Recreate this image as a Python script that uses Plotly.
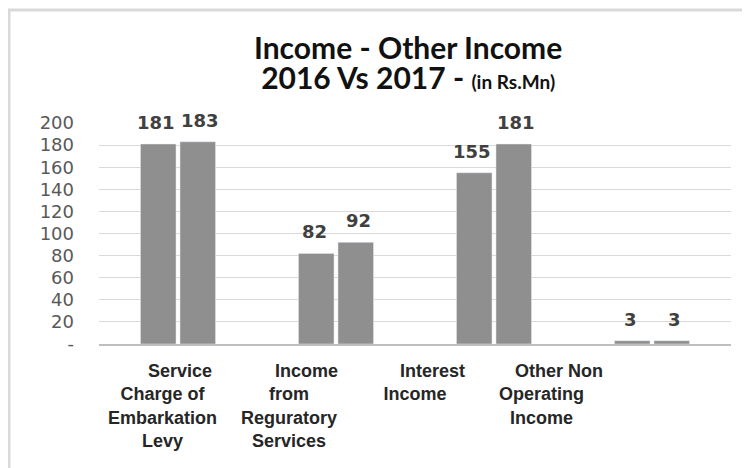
import plotly.graph_objects as go

categories = [
    "Service Charge of Embarkation Levy",
    "Income from Reguratory Services",
    "Interest Income",
    "Other Non Operating Income",
]
category_labels = [
    ["Service", "Charge of", "Embarkation", "Levy"],
    ["Income", "from", "Reguratory", "Services"],
    ["Interest", "Income"],
    ["Other Non", "Operating", "Income"],
]
values_2016 = [181, 82, 155, 3]
values_2017 = [183, 92, 181, 3]
tick_vals = [0, 20, 40, 60, 80, 100, 120, 140, 160, 180, 200]
tick_text = ["-", "20", "40", "60", "80", "100", "120", "140", "160", "180", "200"]

BAR_COLOR = "#8f8f8f"
NB = "\u00a0"

# plot area in px (page body adds 8px offset, so everything is moved up/left by 8)
L, T, W, H = 91, 115, 632, 221


def py(px_y):
    return (T + H - px_y) / H


def px(px_x):
    return (px_x - L) / W


fig = go.Figure()
for name, vals in [("2016", values_2016), ("2017", values_2017)]:
    fig.add_trace(go.Bar(
        x=categories, y=vals, name=name,
        marker_color=BAR_COLOR,
        showlegend=False,
    ))

# value labels above each bar (Excel style, a bit higher than plotly's outside text)
for vals, shift in [(values_2016, -22), (values_2017, 22)]:
    for cat, v in zip(categories, vals):
        fig.add_annotation(
            x=cat, y=v, text=str(v), showarrow=False,
            xshift=shift, yshift=9, yanchor="bottom",
            font=dict(family="DejaVu Sans", size=18, color="#404040", weight="bold"),
        )

# category labels, drifting left like the original
for i, lines in enumerate(category_labels):
    lines = [NB * 7 + lines[0]] + lines[1:]
    fig.add_annotation(
        x=-0.1 + 0.8 * i, xref="x", y=0, yref="paper",
        yanchor="top", yshift=-15, showarrow=False,
        text="<br>".join(lines), align="center",
        font=dict(family="Liberation Sans", size=18, color="#262626", weight="bold"),
    )

# two-line title: small base size keeps the lines tight, spans set the real size
fig.add_annotation(
    x=px(400), y=py(54), xref="paper", yref="paper", showarrow=False,
    xanchor="center", yanchor="middle", align="center",
    text=("<span style='font-size:30px'>Income - Other Income</span><br>"
          "<span style='font-size:30px'>2016 Vs 2017 - </span>"
          "<span style='font-size:19px'>(in Rs.Mn)</span>"),
    font=dict(family="Lato", size=23, color="#111111", weight="bold"),
)

fig.update_layout(
    width=750, height=468,
    margin=dict(l=L, r=750 - L - W, t=T, b=468 - T - H),
    paper_bgcolor="white", plot_bgcolor="white",
    barmode="group", bargap=0.5, bargroupgap=0.1,
    shapes=[
        dict(type="line", xref="paper", yref="paper",
             x0=px(0), x1=px(760), y0=py(2), y1=py(2),
             line=dict(color="#d9d9d9", width=3)),
        dict(type="line", xref="paper", yref="paper",
             x0=px(1), x1=px(1), y0=py(1), y1=py(480),
             line=dict(color="#d9d9d9", width=3)),
    ],
)
fig.update_xaxes(
    showticklabels=False, showgrid=False,
    showline=True, linecolor="#bfbfbf", linewidth=2,
)
fig.update_yaxes(
    range=[0, 200], tickvals=tick_vals, ticktext=tick_text,
    showgrid=True, gridcolor="#d9d9d9", gridwidth=1,
    zeroline=False, showline=False,
    tickfont=dict(family="DejaVu Sans", size=18, color="#595959"),
    ticklabelstandoff=24,
)

fig.write_html("out.html")
